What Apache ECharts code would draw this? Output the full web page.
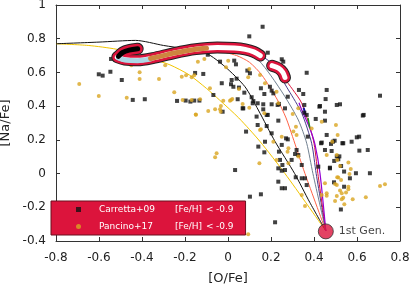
<!DOCTYPE html>
<html><head><meta charset="utf-8">
<script src="https://cdn.jsdelivr.net/npm/echarts@6/dist/echarts.min.js"></script>
<style>html,body{margin:0;padding:0;background:#fff}#c{width:411px;height:290px}</style>
</head><body><div id="c"></div>
<script>
// ---- data ----
const carretta09 = [
[-0.544,0.680],[-0.601,0.589],[-0.583,0.581],[-0.547,0.604],[-0.494,0.555],[-0.443,0.437],[-0.387,0.441],
[-0.153,0.597],[-0.237,0.431],[-0.197,0.433],[-0.175,0.427],
[0.099,0.814],[0.161,0.871],[-0.094,0.705],[-0.037,0.664],[0.029,0.670],[0.037,0.648],[-0.115,0.591],[-0.029,0.536],
[0.017,0.555],[0.040,0.563],[0.025,0.515],[0.051,0.510],[0.076,0.480],[-0.068,0.466],[-0.157,0.433],[-0.133,0.433],
[0.045,0.441],[0.090,0.611],[0.102,0.595],[0.118,0.430],[0.014,0.530],
[0.185,0.717],[0.250,0.678],[0.257,0.664],[0.366,0.598],[0.330,0.496],[0.350,0.472],[0.459,0.496],[0.454,0.442],
[0.153,0.506],[0.195,0.515],[0.203,0.492],[0.211,0.476],[0.169,0.472],[0.278,0.456],[0.521,0.411],[0.164,0.411],[0.203,0.411],
[0.707,0.462],[0.425,0.397],[0.451,0.367],[0.408,0.324],[0.631,0.348],[0.627,0.344],[0.599,0.215],[0.536,0.180],[0.488,0.189],[0.433,0.180],
[0.068,0.387],[0.110,0.453],[0.133,0.338],[0.180,0.348],[0.231,0.407],[0.084,0.249],[0.270,0.209],[0.278,0.203],
[-0.025,0.367],[0.071,0.387],[0.115,0.417],[0.033,0.021],
[0.138,0.417],[0.164,0.381],[0.237,0.413],[0.265,0.387],[0.185,0.348],[0.234,0.314],[0.138,0.288],[0.180,0.282],
[0.203,0.239],[0.250,0.170],[0.172,0.189],[0.141,0.160],[0.237,0.130],[0.319,0.140],[0.312,0.116],[0.327,0.110],
[0.296,0.081],[0.343,0.051],[0.234,0.031],[0.250,0.017],[0.355,0.407],[0.355,0.361],[0.366,0.348],[0.371,0.219],
[0.436,0.184],[0.459,0.229],[0.479,0.176],[0.428,0.401],[0.506,0.407],[0.451,0.314],[0.494,0.075],[0.513,0.085],
[0.526,0.045],[0.474,0.031],[0.420,0.041],
[0.496,0.195],[0.532,0.180],[0.575,0.189],[0.610,0.219],[0.611,0.136],[0.650,0.140],[0.482,0.134],[0.506,0.102],
[0.518,0.102],[0.540,0.012],[0.595,0.002],[0.660,0.002],[0.567,-0.028],[0.540,-0.078],[0.493,-0.052],[0.525,-0.213],
[0.102,-0.137],[0.153,-0.123],[0.219,-0.289],[0.169,0.126],[0.242,0.081],[0.253,0.051],[0.265,0.021],[0.234,-0.048],
[0.250,-0.087],[0.265,-0.087],[0.315,-0.022],[0.343,-0.028],[0.358,-0.028],[0.366,-0.068],[0.451,0.140],[0.474,0.035]
];
const pancino17 = [
[-0.692,0.531],[-0.601,0.460],[-0.471,0.450],[-0.411,0.601],[-0.411,0.561],[-0.450,0.642],[-0.321,0.561],[-0.292,0.642],
[-0.250,0.482],[-0.260,0.690],[-0.211,0.437],[-0.130,0.441],[-0.150,0.350],[-0.215,0.575],[-0.195,0.583],[-0.157,0.583],
[-0.140,0.664],[-0.110,0.680],[0.001,0.670],[-0.009,0.630],[-0.169,0.571],[-0.084,0.506],[0.051,0.502],[0.094,0.571],
[-0.169,0.437],[-0.022,0.432],[0.009,0.432],[0.020,0.442],[0.226,0.486],[0.234,0.417],[0.172,0.536],[0.149,0.585],
[-0.092,0.371],[-0.060,0.381],[-0.037,0.381],[-0.034,0.367],[-0.033,0.401],[0.014,0.437],[0.068,0.413],[0.099,0.391],
[0.099,0.620],[0.301,0.353],[0.316,0.278],[0.153,0.263],[0.502,0.288],[0.510,0.229],[-0.149,0.349],[-0.053,0.120],
[-0.060,0.097],[0.146,0.061],[0.149,0.259],[0.169,0.358],[0.211,0.189],[0.250,0.219],[0.281,0.150],[0.304,0.249],
[0.319,0.229],[0.389,0.268],[0.436,0.308],[0.485,0.189],[0.459,0.110],[0.506,0.110],[0.281,0.061],[0.327,0.102],
[0.327,0.387],[0.508,0.081],[0.521,0.045],[0.560,0.065],[0.571,0.027],[0.565,-0.002],[0.508,-0.022],[0.498,-0.062],
[0.521,-0.101],[0.560,-0.093],[0.549,-0.113],[0.536,-0.143],[0.529,-0.153],[0.580,-0.153],[0.641,-0.141],[0.541,-0.182],
[0.498,-0.163],[0.707,-0.074],[0.730,-0.064],[0.358,-0.192],[0.343,-0.127],[0.436,-0.127],[0.459,-0.131],[0.506,-0.068],
[0.560,-0.078],[0.526,-0.038],[0.513,-0.024],[0.226,0.081],[0.277,0.130],[0.094,-0.360],[0.451,-0.058],[0.459,-0.117],
[0.506,-0.133],[0.529,-0.117]
];
// model tracks
const trackGold    = [[-0.8,0.77],[-0.65,0.76],[-0.52,0.738],[-0.42,0.705],[-0.35,0.678],[-0.27,0.645],[-0.18,0.585],[-0.1,0.505],[-0.04,0.437],[0.05,0.33],[0.149,0.19],[0.265,0.0],[0.455,-0.34]];
const trackBlack   = [[-0.8,0.77],[-0.6,0.78],[-0.43,0.79],[-0.3,0.76],[-0.2,0.74],[-0.1,0.713],[-0.014,0.634],[0.079,0.515],[0.141,0.377],[0.219,0.19],[0.31,0.0],[0.38,-0.17],[0.455,-0.34]];
const trackTomato  = [[-0.05,0.73],[0.04,0.70],[0.1,0.66],[0.157,0.585],[0.23,0.437],[0.27,0.33],[0.30,0.22],[0.358,0.0],[0.455,-0.34]];
const trackGrey    = [[0.10,0.70],[0.141,0.674],[0.2,0.58],[0.265,0.456],[0.327,0.318],[0.366,0.18],[0.395,0.0],[0.455,-0.34]];
const trackSlate   = [[0.149,0.703],[0.203,0.654],[0.281,0.496],[0.343,0.358],[0.389,0.18],[0.41,0.0],[0.455,-0.34]];
const trackCrimson = [[0.265,0.56],[0.30,0.50],[0.343,0.417],[0.397,0.199],[0.418,0.0],[0.455,-0.34]];
const trackPurple  = [[0.33,0.42],[0.343,0.377],[0.38,0.27],[0.405,0.17],[0.428,0.0],[0.455,-0.34]];
const trackGreen   = [[0.372,0.33],[0.381,0.27]];
const trackBlue    = [[0.352,0.39],[0.36,0.35]];
// thick band
const bandMain   = [[-0.515,0.69],[-0.48,0.676],[-0.42,0.672],[-0.35,0.685],[-0.25,0.715],[-0.15,0.738],[-0.05,0.748],[0.03,0.745],[0.08,0.737],[0.12,0.722],[0.15,0.70]];
const bandHook   = [[-0.51,0.695],[-0.49,0.718],[-0.46,0.732],[-0.42,0.74]];
const bandSecond = [[0.205,0.64],[0.235,0.625],[0.255,0.60],[0.265,0.57]];
const bandBlue   = [[-0.51,0.686],[-0.48,0.674],[-0.42,0.67],[-0.36,0.68]];
const bandPeru   = [[-0.36,0.683],[-0.3,0.70],[-0.25,0.715],[-0.15,0.738],[-0.1,0.744]];
const firstGen   = [{name:'1st Gen.', value:[0.455,-0.343]}];
const xTicks = {min:-0.8, max:0.8, step:0.2};
const yTicks = {min:-0.4, max:1.0, step:0.2};
const legendNote = '[Fe/H] < -0.9';

// ---- chart ----
const FONT = 'DejaVu Sans';
const chart = echarts.init(document.getElementById('c'), null, {renderer:'canvas'});
const fmt = v => String(Math.round(v*10)/10);
function axisBase(pos, showLabel){
  return {
    type:'value', position:pos, splitLine:{show:false},
    axisLine:{show:true, onZero:false, lineStyle:{color:'#333', width:1}},
    axisTick:{show:true, inside:true, length:4, lineStyle:{color:'#333'}},
    axisLabel:{show:showLabel, color:'#222', fontFamily:FONT, fontSize:12, formatter:fmt},
  };
}
function trackLine(data, color, w){
  return {type:'line', data, showSymbol:false, smooth:0.25, silent:true,
    lineStyle:{color, width:w||1}, z:2, animation:false};
}
function band(data, color, w, z){
  return {type:'line', data, showSymbol:false, smooth:0.3, silent:true,
    lineStyle:{color, width:w, cap:'round', join:'round'}, z, animation:false};
}
const rowRich = {
  s:{width:13},
  a:{width:76, color:'#fff', fontFamily:FONT, fontSize:9},
  b:{width:31, color:'#fff', fontFamily:FONT, fontSize:9},
  c:{width:10, color:'#fff', fontFamily:FONT, fontSize:9},
  d:{color:'#fff', fontFamily:FONT, fontSize:9}
};
const noteParts = legendNote.split(' ');
chart.setOption({
  animation:false,
  backgroundColor:'#fff',
  grid:{left:56, right:11, top:5, bottom:49, containLabel:false, outerBoundsMode:'none'},
  xAxis:[
    Object.assign(axisBase('bottom', true), {min:xTicks.min, max:xTicks.max, interval:xTicks.step,
      name:'[O/Fe]', nameLocation:'middle', nameGap:31, nameTextStyle:{fontFamily:FONT, fontSize:13, color:'#222'},
      axisLabel:{color:'#222', fontFamily:FONT, fontSize:12, formatter:fmt, margin:11}}),
    Object.assign(axisBase('top', false), {min:xTicks.min, max:xTicks.max, interval:xTicks.step})
  ],
  yAxis:[
    Object.assign(axisBase('left', true), {min:yTicks.min, max:yTicks.max, interval:yTicks.step,
      name:'[Na/Fe]', nameLocation:'middle', nameGap:42, nameTextStyle:{fontFamily:FONT, fontSize:13, color:'#222'},
      axisLabel:{color:'#222', fontFamily:FONT, fontSize:12, formatter:fmt, margin:10}}),
    Object.assign(axisBase('right', false), {min:yTicks.min, max:yTicks.max, interval:yTicks.step})
  ],
  legend:{
    data:['Carretta+09','Pancino+17'], orient:'vertical', left:51, top:201,
    backgroundColor:'#DC143C', borderColor:'#6b0f1f', borderWidth:1, borderRadius:0,
    padding:[3,12,3,25], itemWidth:5, itemHeight:5, itemGap:6,
    selectedMode:false,
    formatter: name => '{s| }{a|'+name+'}{b|'+noteParts[0]+'}{c|'+noteParts[1]+'}{d|'+noteParts[2]+'}',
    textStyle:{rich:rowRich, color:'#fff', fontFamily:FONT, fontSize:9, lineHeight:11}
  },
  series:[
    trackLine(trackGold,'#F2C500',1),
    trackLine(trackBlack,'#111',1),
    trackLine(trackTomato,'#FF6347',1),
    trackLine(trackGrey,'#708090',1),
    trackLine(trackSlate,'#483D8B',1),
    trackLine(trackCrimson,'#DC143C',1),
    trackLine(trackPurple,'#9400D3',1.2),
    trackLine(trackGreen,'#1f8f1f',1.5),
    trackLine(trackBlue,'#1010a0',2),
    {name:'Carretta+09', type:'scatter', data:carretta09, symbol:'rect', symbolSize:4, z:3,
      itemStyle:{color:'#111'}},
    {name:'Pancino+17', type:'scatter', data:pancino17, symbol:'circle', symbolSize:4, z:3,
      itemStyle:{color:'#DAA520'}},
    band(bandMain,'#222',12,4), band(bandHook,'#222',12,4), band(bandSecond,'#222',12,4),
    band(bandMain,'#DC143C',10,5), band(bandHook,'#DC143C',10,5), band(bandSecond,'#DC143C',10,5),
    band(bandMain,'#fff',5,6), band(bandSecond,'#fff',5,6),
    band(bandBlue,'#ADD8E6',5,7), band(bandPeru,'#CD853F',5,7), band(bandHook,'#000',5,7),
    {type:'scatter', data:firstGen, symbol:'circle', symbolSize:15, z:8,
      itemStyle:{color:'#DC143C', borderColor:'#333', borderWidth:1},
      label:{show:true, position:'right', distance:5, formatter:'{b}', color:'#111', fontFamily:FONT, fontSize:11}}
  ]
});
</script></body></html>
